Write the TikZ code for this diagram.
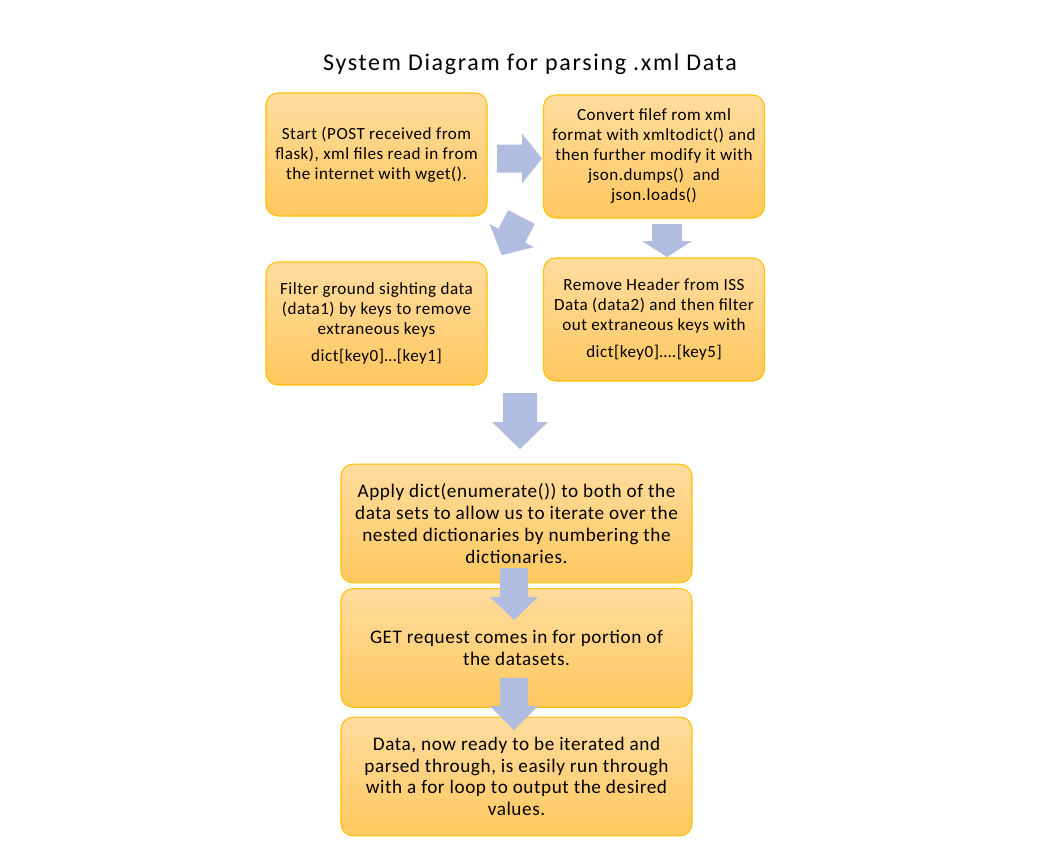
\documentclass[tikz,border=0pt]{standalone}
\usepackage{fontspec}
\setmainfont{Carlito}
\newfontfamily\boxfont[LetterSpace=3]{Carlito}
\newfontfamily\titlefont[LetterSpace=7]{Carlito}
\begin{document}
\begin{tikzpicture}[x=0.75pt,y=-0.75pt,
  box/.style={draw=boxedge, line width=0.8pt, rounded corners=9pt,
    top color=boxtop, bottom color=boxbottom, align=center, inner sep=0pt},
  smallbox/.style={box, minimum width=165.75pt, minimum height=92.25pt,
    font=\boxfont\fontsize{12.8}{15}\selectfont},
  widebox/.style={box, minimum width=263.25pt, minimum height=89pt,
    font=\boxfont\fontsize{14.4}{16.3}\selectfont},
  pics/blockarrow/.style args={#1/#2/#3/#4}{code={
    \fill[arrowfill] (0,-#2/2) -- (#1-#4,-#2/2) -- (#1-#4,-#3/2) -- (#1,0)
      -- (#1-#4,#3/2) -- (#1-#4,#2/2) -- (0,#2/2) -- cycle;}}
]
\definecolor{boxtop}{HTML}{FFDC9E}
\definecolor{boxbottom}{HTML}{FFC85F}
\definecolor{boxedge}{HTML}{FFC000}
\definecolor{arrowfill}{HTML}{B0BCE0}

\useasboundingbox (0,0) rectangle (1062,867);

% title
\node (title) at (530,64) {\titlefont\fontsize{18}{21}\selectfont System Diagram for parsing .xml Data};

% process boxes
\node[smallbox] (start) at (376.5,154.5)
  {Start (POST received from\\flask), xml files read in from\\the internet with wget().};
\node[smallbox] (convert) at (654,156.5)
  {Convert filef rom xml\\format with xmltodict() and\\then further modify it with\\json.dumps()\ \ and\\json.loads()};
\node[smallbox] (filter) at (376.5,323.5)
  {Filter ground sighting data\\(data1) by keys to remove\\extraneous keys\\[5pt]dict[key0]…[key1]};
\node[smallbox] (header) at (654,319.5)
  {Remove Header from ISS\\Data (data2) and then filter\\out extraneous keys with\\[5pt]dict[key0]….[key5]};
\node[widebox] (enumerate) at (516.5,523.5)
  {Apply dict(enumerate()) to both of the\\data sets to allow us to iterate over the\\nested dictionaries by numbering the\\dictionaries.};
\node[widebox] (request) at (516.5,648)
  {GET request comes in for portion of\\the datasets.};
\node[widebox] (output) at (516.5,776.5)
  {Data, now ready to be iterated and\\parsed through, is easily run through\\with a for loop to output the desired\\values.};

% block arrows: length / shaft width / head width / head length
\pic at (497,158.5) {blockarrow=45/28/50/20};
\pic[rotate=-90] at (667,224) {blockarrow=33/30/50/16};
\pic[rotate=-117.5] at (521.5,217) {blockarrow=43/30/50/22};
\pic[rotate=-90] at (520,393) {blockarrow=56/34/56/27};
\pic[rotate=-90] at (514,568) {blockarrow=52/28/48/23};
\pic[rotate=-90] at (514,678) {blockarrow=52/28/48/24};
\end{tikzpicture}
\end{document}
